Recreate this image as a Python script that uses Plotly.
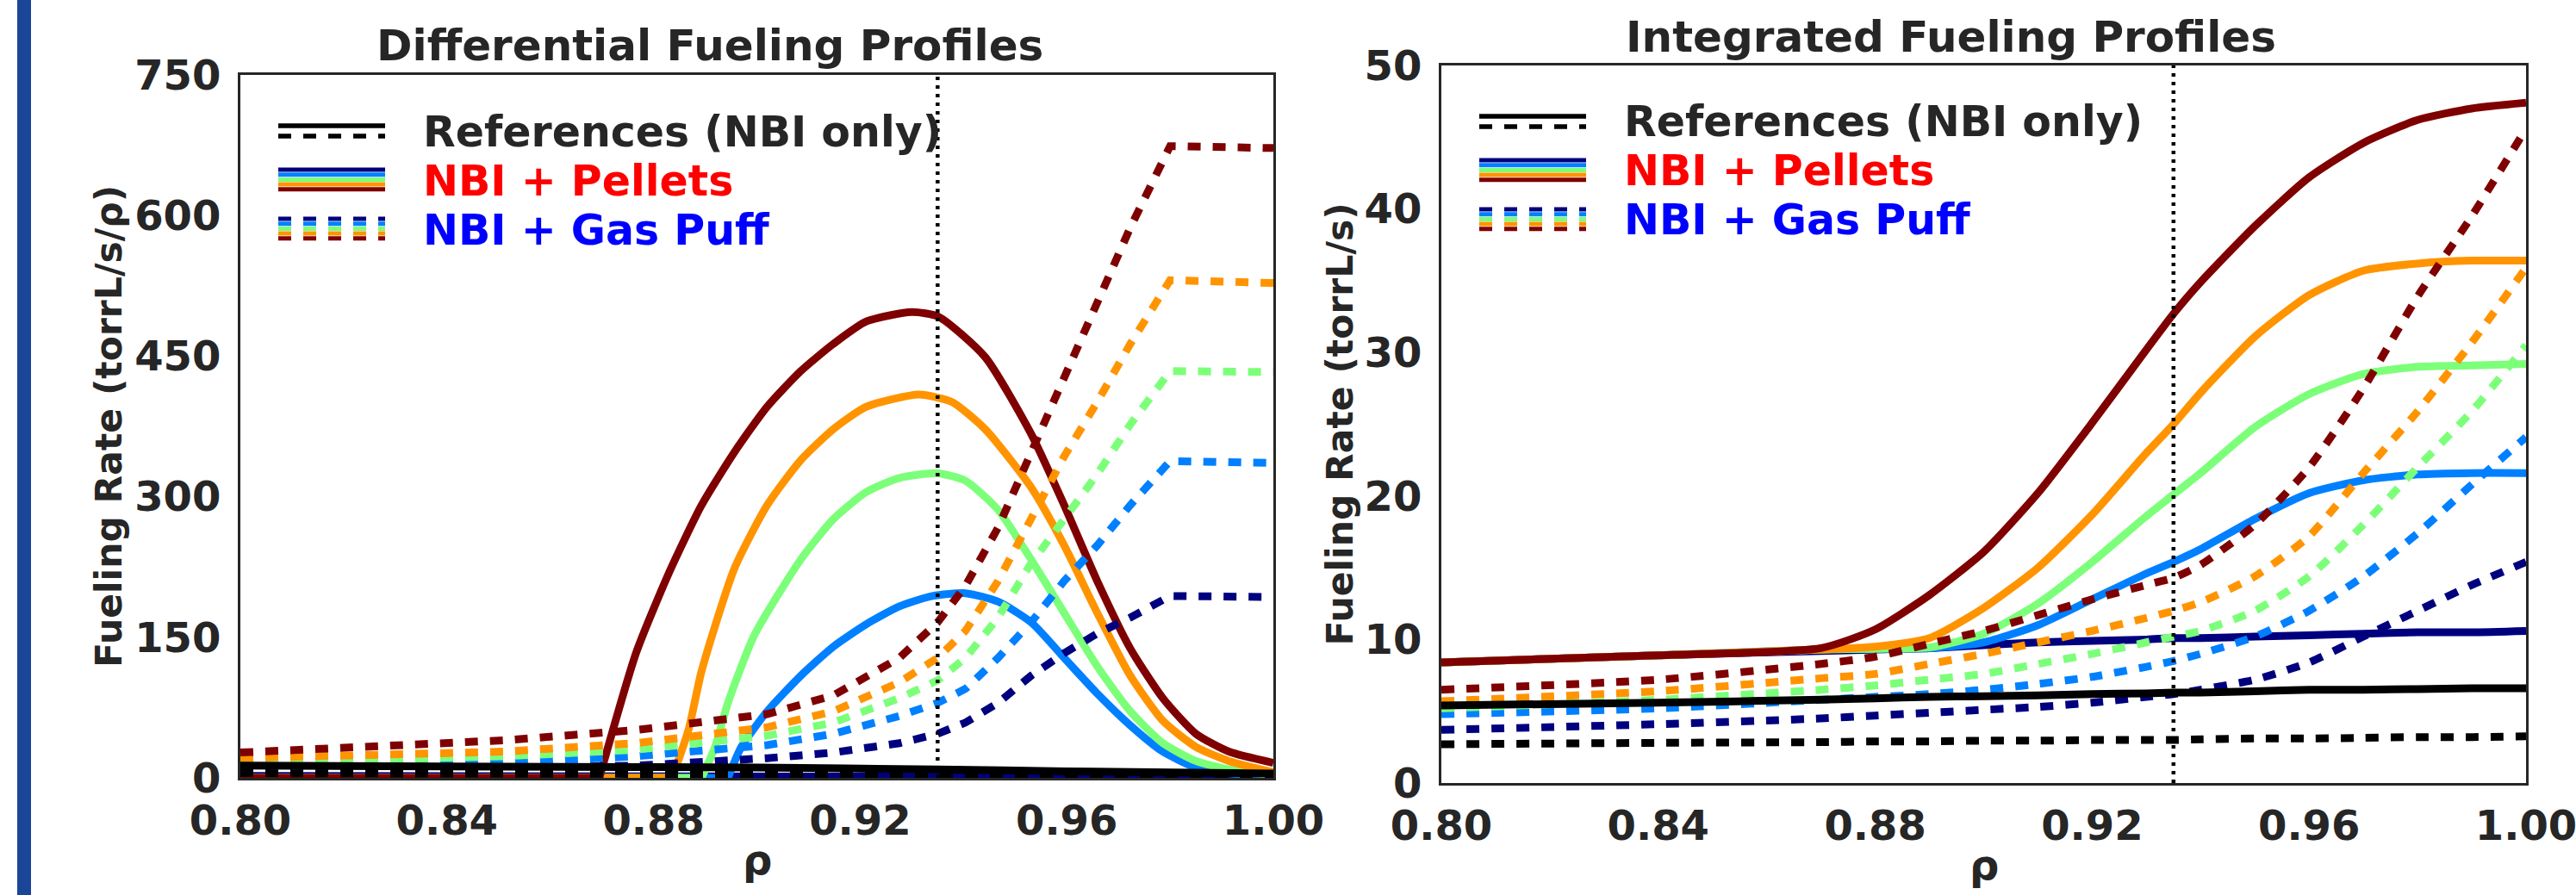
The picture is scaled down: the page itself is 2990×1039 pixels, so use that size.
import plotly.graph_objects as go

# ---------------- data ----------------
rho_marker = 0.935

# Differential fueling (left panel), torrL/s/rho
ref_solid_rho_L = [0.80, 0.85, 0.90, 0.935, 0.96, 1.00]
ref_solid_L = [13, 12, 11, 9, 7, 4.5]
ref_dash_rho_L = [0.80, 0.90, 1.00]
ref_dash_L = [5, 4, 3]

pel1_rho_L = [0.80, 0.90, 0.95, 1.00]
pel1_L = [2, 2, 1.5, 1]
pel2_rho_L = [0.800, 0.8944, 0.8970, 0.9020, 0.9085, 0.9148, 0.9212, 0.9276, 0.9340, 0.9404,
              0.9467, 0.9531, 0.9595, 0.9659, 0.9723, 0.9786, 0.9850, 0.9914, 1.000]
pel2_L = [0, 0, 33, 71, 109, 140, 164, 183, 194, 197, 188, 166, 128, 90, 56, 28, 11, 5, 1]
pel3_rho_L = [0.800, 0.8893, 0.8919, 0.8944, 0.8995, 0.9085, 0.9148, 0.9212, 0.9276, 0.9350,
              0.9404, 0.9467, 0.9531, 0.9595, 0.9659, 0.9723, 0.9786, 0.9850, 0.9914, 1.000]
pel3_L = [0, 0, 33, 80, 152, 233, 276, 305, 320, 325, 317, 286, 233, 176, 119, 71, 37, 18, 9, 3]
pel4_rho_L = [0.800, 0.8836, 0.8868, 0.8893, 0.8957, 0.9020, 0.9085, 0.9148, 0.9212, 0.9314,
              0.9378, 0.9442, 0.9531, 0.9595, 0.9659, 0.9723, 0.9786, 0.9850, 0.9914, 1.000]
pel4_L = [0, 0, 52, 114, 224, 291, 339, 372, 396, 409, 401, 372, 310, 248, 176, 109, 61, 33, 18, 6]
pel5_rho_L = [0.800, 0.8695, 0.8766, 0.8830, 0.8893, 0.8957, 0.9020, 0.9085, 0.9148, 0.9212,
              0.9300, 0.9352, 0.9442, 0.9531, 0.9595, 0.9659, 0.9723, 0.9786, 0.9850, 0.9914, 1.000]
pel5_L = [0, 0, 133, 219, 291, 348, 396, 434, 463, 487, 497, 492, 449, 367, 291, 210, 138, 85, 47, 28, 16]

gas_rho_L = [0.80, 0.851, 0.8766, 0.902, 0.9148, 0.9276, 0.935, 0.9404, 0.9467, 0.9531,
             0.9595, 0.9659, 0.9723, 0.980, 1.00]
gas1_L = [6, 10, 13, 21, 27, 37, 47, 59, 80, 109, 133, 154, 171, 194, 193]
gas2_L = [11, 16, 23, 35, 47, 66, 80, 95, 128, 166, 210, 248, 291, 338, 336]
gas3_L = [16, 23, 30, 45, 59, 85, 104, 128, 171, 229, 276, 324, 377, 434, 433]
gas4_L = [21, 28, 37, 54, 71, 102, 128, 157, 210, 276, 343, 401, 463, 531, 528]
gas5_L = [27, 40, 51, 68, 88, 128, 166, 205, 267, 348, 425, 506, 587, 674, 672]

# Integrated fueling (right panel), torrL/s
rho_R = [0.80, 0.84, 0.87, 0.88, 0.89, 0.90, 0.91, 0.92, 0.93, 0.935, 0.94, 0.95, 0.96, 0.97, 0.98, 0.99, 1.00]
ref_solid_R = [5.4, 5.6, 5.8, 5.9, 6.0, 6.05, 6.1, 6.2, 6.25, 6.3, 6.3, 6.4, 6.5, 6.5, 6.55, 6.6, 6.6]
ref_dash_R = [2.7, 2.8, 2.85, 2.9, 2.9, 2.95, 2.95, 3.0, 3.0, 3.0, 3.05, 3.1, 3.1, 3.15, 3.2, 3.2, 3.25]
pel1_R = [8.4, 8.9, 9.2, 9.3, 9.4, 9.6, 9.8, 9.9, 10.0, 10.1, 10.1, 10.2, 10.3, 10.4, 10.5, 10.5, 10.6]
pel2_R = [8.4, 8.9, 9.3, 9.35, 9.4, 9.8, 11.0, 12.8, 14.6, 15.4, 16.3, 18.4, 20.2, 21.1, 21.5, 21.6, 21.6]
pel3_R = [8.4, 8.9, 9.3, 9.35, 9.45, 10.4, 12.5, 15.4, 18.6, 20.1, 21.6, 24.8, 27.1, 28.5, 29.0, 29.1, 29.2]
pel4_R = [8.4, 8.9, 9.3, 9.5, 10.1, 12.2, 15.0, 18.7, 23.0, 25.0, 27.2, 31.1, 34.0, 35.7, 36.2, 36.4, 36.4]
pel5_R = [8.4, 8.9, 9.4, 10.7, 13.1, 16.1, 20.2, 25.1, 30.2, 32.7, 34.9, 38.8, 42.2, 44.6, 46.2, 47.0, 47.4]
gas1_R = [3.7, 4.1, 4.5, 4.7, 4.9, 5.1, 5.3, 5.6, 6.0, 6.2, 6.5, 7.2, 8.4, 10.2, 12.0, 13.8, 15.4]
gas2_R = [4.8, 5.2, 5.8, 6.0, 6.2, 6.5, 6.9, 7.4, 8.1, 8.5, 9.0, 10.2, 12.0, 14.4, 17.4, 20.8, 24.1]
gas3_R = [5.2, 5.8, 6.5, 6.8, 7.2, 7.6, 8.3, 9.0, 9.8, 10.2, 10.6, 12.0, 14.4, 18.0, 22.0, 25.9, 30.5]
gas4_R = [5.7, 6.4, 7.3, 7.6, 8.3, 9.0, 9.8, 10.6, 11.5, 12.0, 12.6, 14.4, 17.2, 21.6, 25.9, 30.7, 35.9]
gas5_R = [6.5, 7.2, 8.3, 8.8, 9.7, 10.6, 11.7, 12.8, 13.8, 14.3, 15.2, 18.0, 22.0, 27.5, 33.9, 39.5, 45.6]

x_ticks = [0.80, 0.84, 0.88, 0.92, 0.96, 1.00]
x_ticktext = ["0.80", "0.84", "0.88", "0.92", "0.96", "1.00"]
yL_ticks = [0, 150, 300, 450, 600, 750]
yR_ticks = [0, 10, 20, 30, 40, 50]

titles = ["Differential Fueling Profiles", "Integrated Fueling Profiles"]
ylabels = ["Fueling Rate (torrL/s/ρ)", "Fueling Rate (torrL/s)"]
xlabel = "ρ"
legend_labels = ["References (NBI only)", "NBI + Pellets", "NBI + Gas Puff"]
legend_colors = ["#262626", "#ff0000", "#0000ff"]

# ---------------- style ----------------
W, H = 2990, 1039
FONT = "DejaVu Sans"
TXT = "#262626"
JET = ["#00007f", "#0080ff", "#7cff79", "#ff9400", "#7f0000"]
LW = 9
DASH = "15px,14px"


def px(x):
    return x / W


def py(y):
    return 1 - y / H


AX = {"L": (279, 1478, 87, 903), "R": (1673, 2932, 76, 909)}

fig = go.Figure()


def line(x, y, color, dash, xa, ya, shape="spline"):
    fig.add_trace(go.Scatter(
        x=x, y=y, mode="lines", xaxis=xa, yaxis=ya, showlegend=False, hoverinfo="skip",
        line=dict(color=color, width=LW, dash=dash, shape=shape, smoothing=0.6),
    ))


# left panel: pellet curves are flat until their onset, then a smooth arc
line(pel1_rho_L, pel1_L, JET[0], "solid", "x", "y", shape="linear")
for i, (xr, yv) in enumerate([(pel2_rho_L, pel2_L), (pel3_rho_L, pel3_L),
                              (pel4_rho_L, pel4_L), (pel5_rho_L, pel5_L)], start=1):
    line(xr[:2], yv[:2], JET[i], "solid", "x", "y", shape="linear")
    line(xr[1:], yv[1:], JET[i], "solid", "x", "y")
for i, yv in enumerate([gas1_L, gas2_L, gas3_L, gas4_L, gas5_L]):
    line(gas_rho_L, yv, JET[i], DASH, "x", "y", shape="linear")
line(ref_dash_rho_L, ref_dash_L, "#000000", DASH, "x", "y", shape="linear")
line(ref_solid_rho_L, ref_solid_L, "#000000", "solid", "x", "y")

# right panel
for i, yv in enumerate([pel1_R, pel2_R, pel3_R, pel4_R, pel5_R]):
    line(rho_R, yv, JET[i], "solid", "x2", "y2")
for i, yv in enumerate([gas1_R, gas2_R, gas3_R, gas4_R, gas5_R]):
    line(rho_R, yv, JET[i], DASH, "x2", "y2")
line(rho_R, ref_dash_R, "#000000", DASH, "x2", "y2")
line(rho_R, ref_solid_R, "#000000", "solid", "x2", "y2")

tickfont = dict(family=FONT, size=48, color=TXT, weight="bold")
axcommon = dict(showline=True, mirror=True, linewidth=3, linecolor=TXT, showgrid=False,
                zeroline=False, ticks="", tickfont=tickfont, automargin=False,
                ticklabeloverflow="allow")

xl0, xl1, yl0, yl1 = AX["L"]
xr0, xr1, yr0, yr1 = AX["R"]
fig.update_layout(
    template="none",
    width=W, height=H, margin=dict(l=0, r=0, t=0, b=0, pad=0), autosize=False,
    paper_bgcolor="white", plot_bgcolor="white", showlegend=False,
    xaxis=dict(domain=[px(xl0), px(xl1)], range=[0.80, 1.00], tickvals=x_ticks, ticktext=x_ticktext,
               anchor="y", ticklabelstandoff=5, **axcommon),
    yaxis=dict(domain=[py(yl1), py(yl0)], range=[0, 750], tickvals=yL_ticks, anchor="x",
               ticklabelstandoff=10, **axcommon),
    xaxis2=dict(domain=[px(xr0), px(xr1)], range=[0.80, 1.00], tickvals=x_ticks, ticktext=x_ticktext,
                anchor="y2", ticklabelstandoff=5, **axcommon),
    yaxis2=dict(domain=[py(yr1), py(yr0)], range=[0, 50], tickvals=yR_ticks, anchor="x2",
                ticklabelstandoff=10, **axcommon),
)

shapes = []
# blue bar on the left edge
shapes.append(dict(type="rect", xref="paper", yref="paper", x0=px(20), x1=px(36), y0=0, y1=1,
                   fillcolor="#1b4597", line=dict(width=0), layer="above"))
# vertical dotted marker
for xa, ya in [("x", "y domain"), ("x2", "y2 domain")]:
    shapes.append(dict(type="line", xref=xa, yref=ya, x0=rho_marker, x1=rho_marker, y0=0, y1=1,
                       line=dict(color="#000000", width=4.5, dash="4px,6px"), layer="above"))

ann = []


def bold(s, c=TXT):
    return dict(family=FONT, size=s, color=c, weight="bold")


for key, title, ylab, tx, ty, ylx in [("L", titles[0], ylabels[0], 824, 53, 127),
                                      ("R", titles[1], ylabels[1], 2264, 43, 1555)]:
    x0, x1, y0, y1 = AX[key]
    ann.append(dict(text=title, x=px(tx), y=py(ty), xref="paper", yref="paper", showarrow=False,
                    xanchor="center", yanchor="middle", font=bold(50)))
    ann.append(dict(text=ylab, x=px(ylx), y=py((y0 + y1) / 2), xref="paper", yref="paper",
                    showarrow=False, textangle=-90, xanchor="center", yanchor="middle", font=bold(42.5)))
    ann.append(dict(text=xlabel, x=px((x0 + x1) / 2), y=py(y1 + 95), xref="paper", yref="paper",
                    showarrow=False, xanchor="center", yanchor="middle", font=bold(48)))

    # manual legend
    sx0, sx1 = x0 + 44, x0 + 168
    txx = x0 + 210
    shapes.append(dict(type="line", xref="paper", yref="paper", x0=px(sx0), x1=px(sx1),
                       y0=py(y0 + 59), y1=py(y0 + 59), line=dict(color="#000000", width=5.5)))
    shapes.append(dict(type="line", xref="paper", yref="paper", x0=px(sx0), x1=px(sx1),
                       y0=py(y0 + 71), y1=py(y0 + 71), line=dict(color="#000000", width=5.5, dash="15px,14px")))
    for i in range(5):
        yy = y0 + 110 + i * 5.7
        shapes.append(dict(type="line", xref="paper", yref="paper", x0=px(sx0), x1=px(sx1),
                           y0=py(yy), y1=py(yy), line=dict(color=JET[i], width=5)))
        yy2 = y0 + 167 + i * 5.7
        shapes.append(dict(type="line", xref="paper", yref="paper", x0=px(sx0), x1=px(sx1),
                           y0=py(yy2), y1=py(yy2), line=dict(color=JET[i], width=5, dash="15px,14px")))
    for j, (lab, col) in enumerate(zip(legend_labels, legend_colors)):
        yy = y0 + [66, 123, 180][j]
        ann.append(dict(text=lab, x=px(txx), y=py(yy), xref="paper", yref="paper", showarrow=False,
                        xanchor="left", yanchor="middle", font=bold(49, col)))

fig.update_layout(shapes=shapes, annotations=ann)
fig.write_html("out.html")
